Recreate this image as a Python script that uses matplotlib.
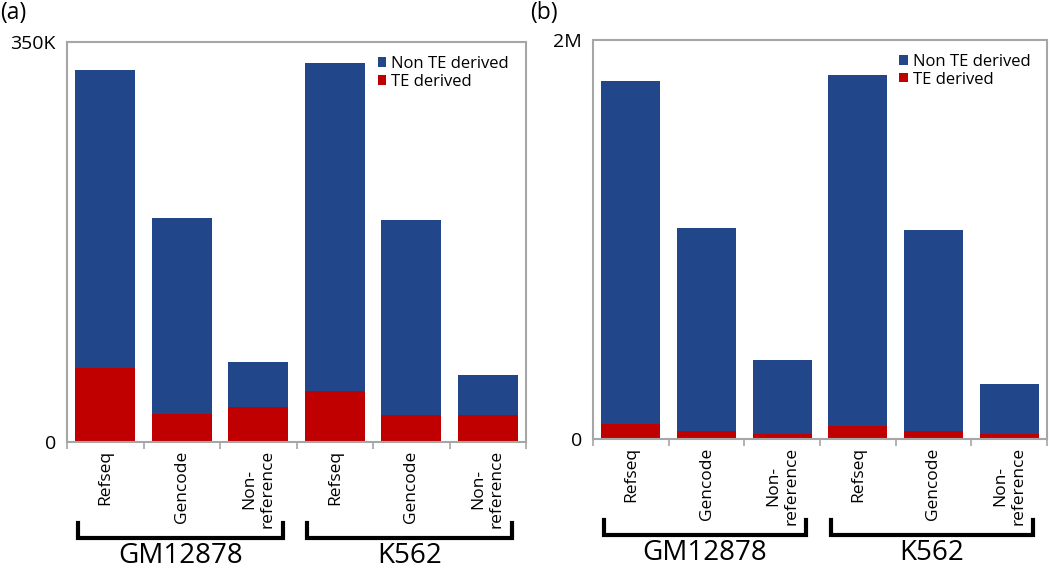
import numpy as np
import matplotlib
matplotlib.use("Agg")
import matplotlib.pyplot as plt
from matplotlib.transforms import blended_transform_factory

plt.rcParams['font.family'] = ['Open Sans', 'DejaVu Sans']

categories = ["Refseq", "Gencode", "Non-\nreference", "Refseq", "Gencode", "Non-\nreference"]
groups = ["GM12878", "K562"]

# panel (a), counts in thousands
a_total = [325.5, 196, 70, 331.5, 194, 58.5]
a_te = [65, 24.5, 30.5, 44.5, 23.5, 23.5]

# panel (b), counts in millions
b_total = [1.795, 1.058, 0.396, 1.825, 1.048, 0.276]
b_te = [0.075, 0.04, 0.025, 0.065, 0.04, 0.025]

blue = "#21478A"
red = "#C00000"
frame = "#A6A6A6"

W, H = 1050, 572
fig = plt.figure(figsize=(W / 100, H / 100), dpi=100)


def panel(box, total, te, ymax, toplabel, letter, letter_x):
    left, top, right, bottom = box
    ax = fig.add_axes([left / W, 1 - bottom / H, (right - left) / W, (bottom - top) / H])
    x = np.arange(len(categories))
    non_te = np.array(total) - np.array(te)
    ax.bar(x, te, width=0.78, color=red, label="TE derived")
    ax.bar(x, non_te, bottom=te, width=0.78, color=blue, label="Non TE derived")
    ax.set_xlim(-0.5, len(categories) - 0.5)
    ax.set_ylim(0, ymax)
    ax.set_yticks([0, ymax])
    ax.set_yticklabels(["0", toplabel], fontsize=14)
    ax.tick_params(axis="y", length=0, pad=8)
    ax.set_xticks(x)
    ax.set_xticklabels(categories, rotation=90, fontsize=12.5, multialignment="center")
    ax.set_xticks(np.arange(-0.5, len(categories)), minor=True)
    ax.tick_params(axis="x", which="major", length=0, pad=6)
    ax.tick_params(axis="x", which="minor", length=5, width=1.2, color=frame)
    for s in ax.spines.values():
        s.set_color(frame)
        s.set_linewidth(1.5)
    h, l = ax.get_legend_handles_labels()
    ax.legend(h[::-1], l[::-1], loc="upper right", frameon=False, fontsize=12,
              handlelength=0.5, handleheight=0.5, handletextpad=0.3,
              labelspacing=0.1, borderaxespad=0.2, bbox_to_anchor=(0.985, 0.99))
    # group brackets
    tr = blended_transform_factory(ax.transData, ax.transAxes)
    for g, name in enumerate(groups):
        x0 = g * 3 - 0.36
        x1 = g * 3 + 2.32
        ax.plot([x0, x0, x1, x1], [-0.203, -0.241, -0.241, -0.203], color="black",
                lw=3, transform=tr, clip_on=False, solid_joinstyle="miter")
        ax.text((x0 + x1) / 2, -0.285, name, transform=tr, ha="center", va="center",
                fontsize=20)
    fig.text(letter_x / W, 1 - 13 / H, letter, ha="left", va="center", fontsize=16.5)
    return ax


panel((67, 42, 526, 442), a_total, a_te, 350, "350K", "(a)", 0)
panel((593, 40, 1047, 439), b_total, b_te, 2, "2M", "(b)", 530)

fig.savefig("out.png", dpi=100)
